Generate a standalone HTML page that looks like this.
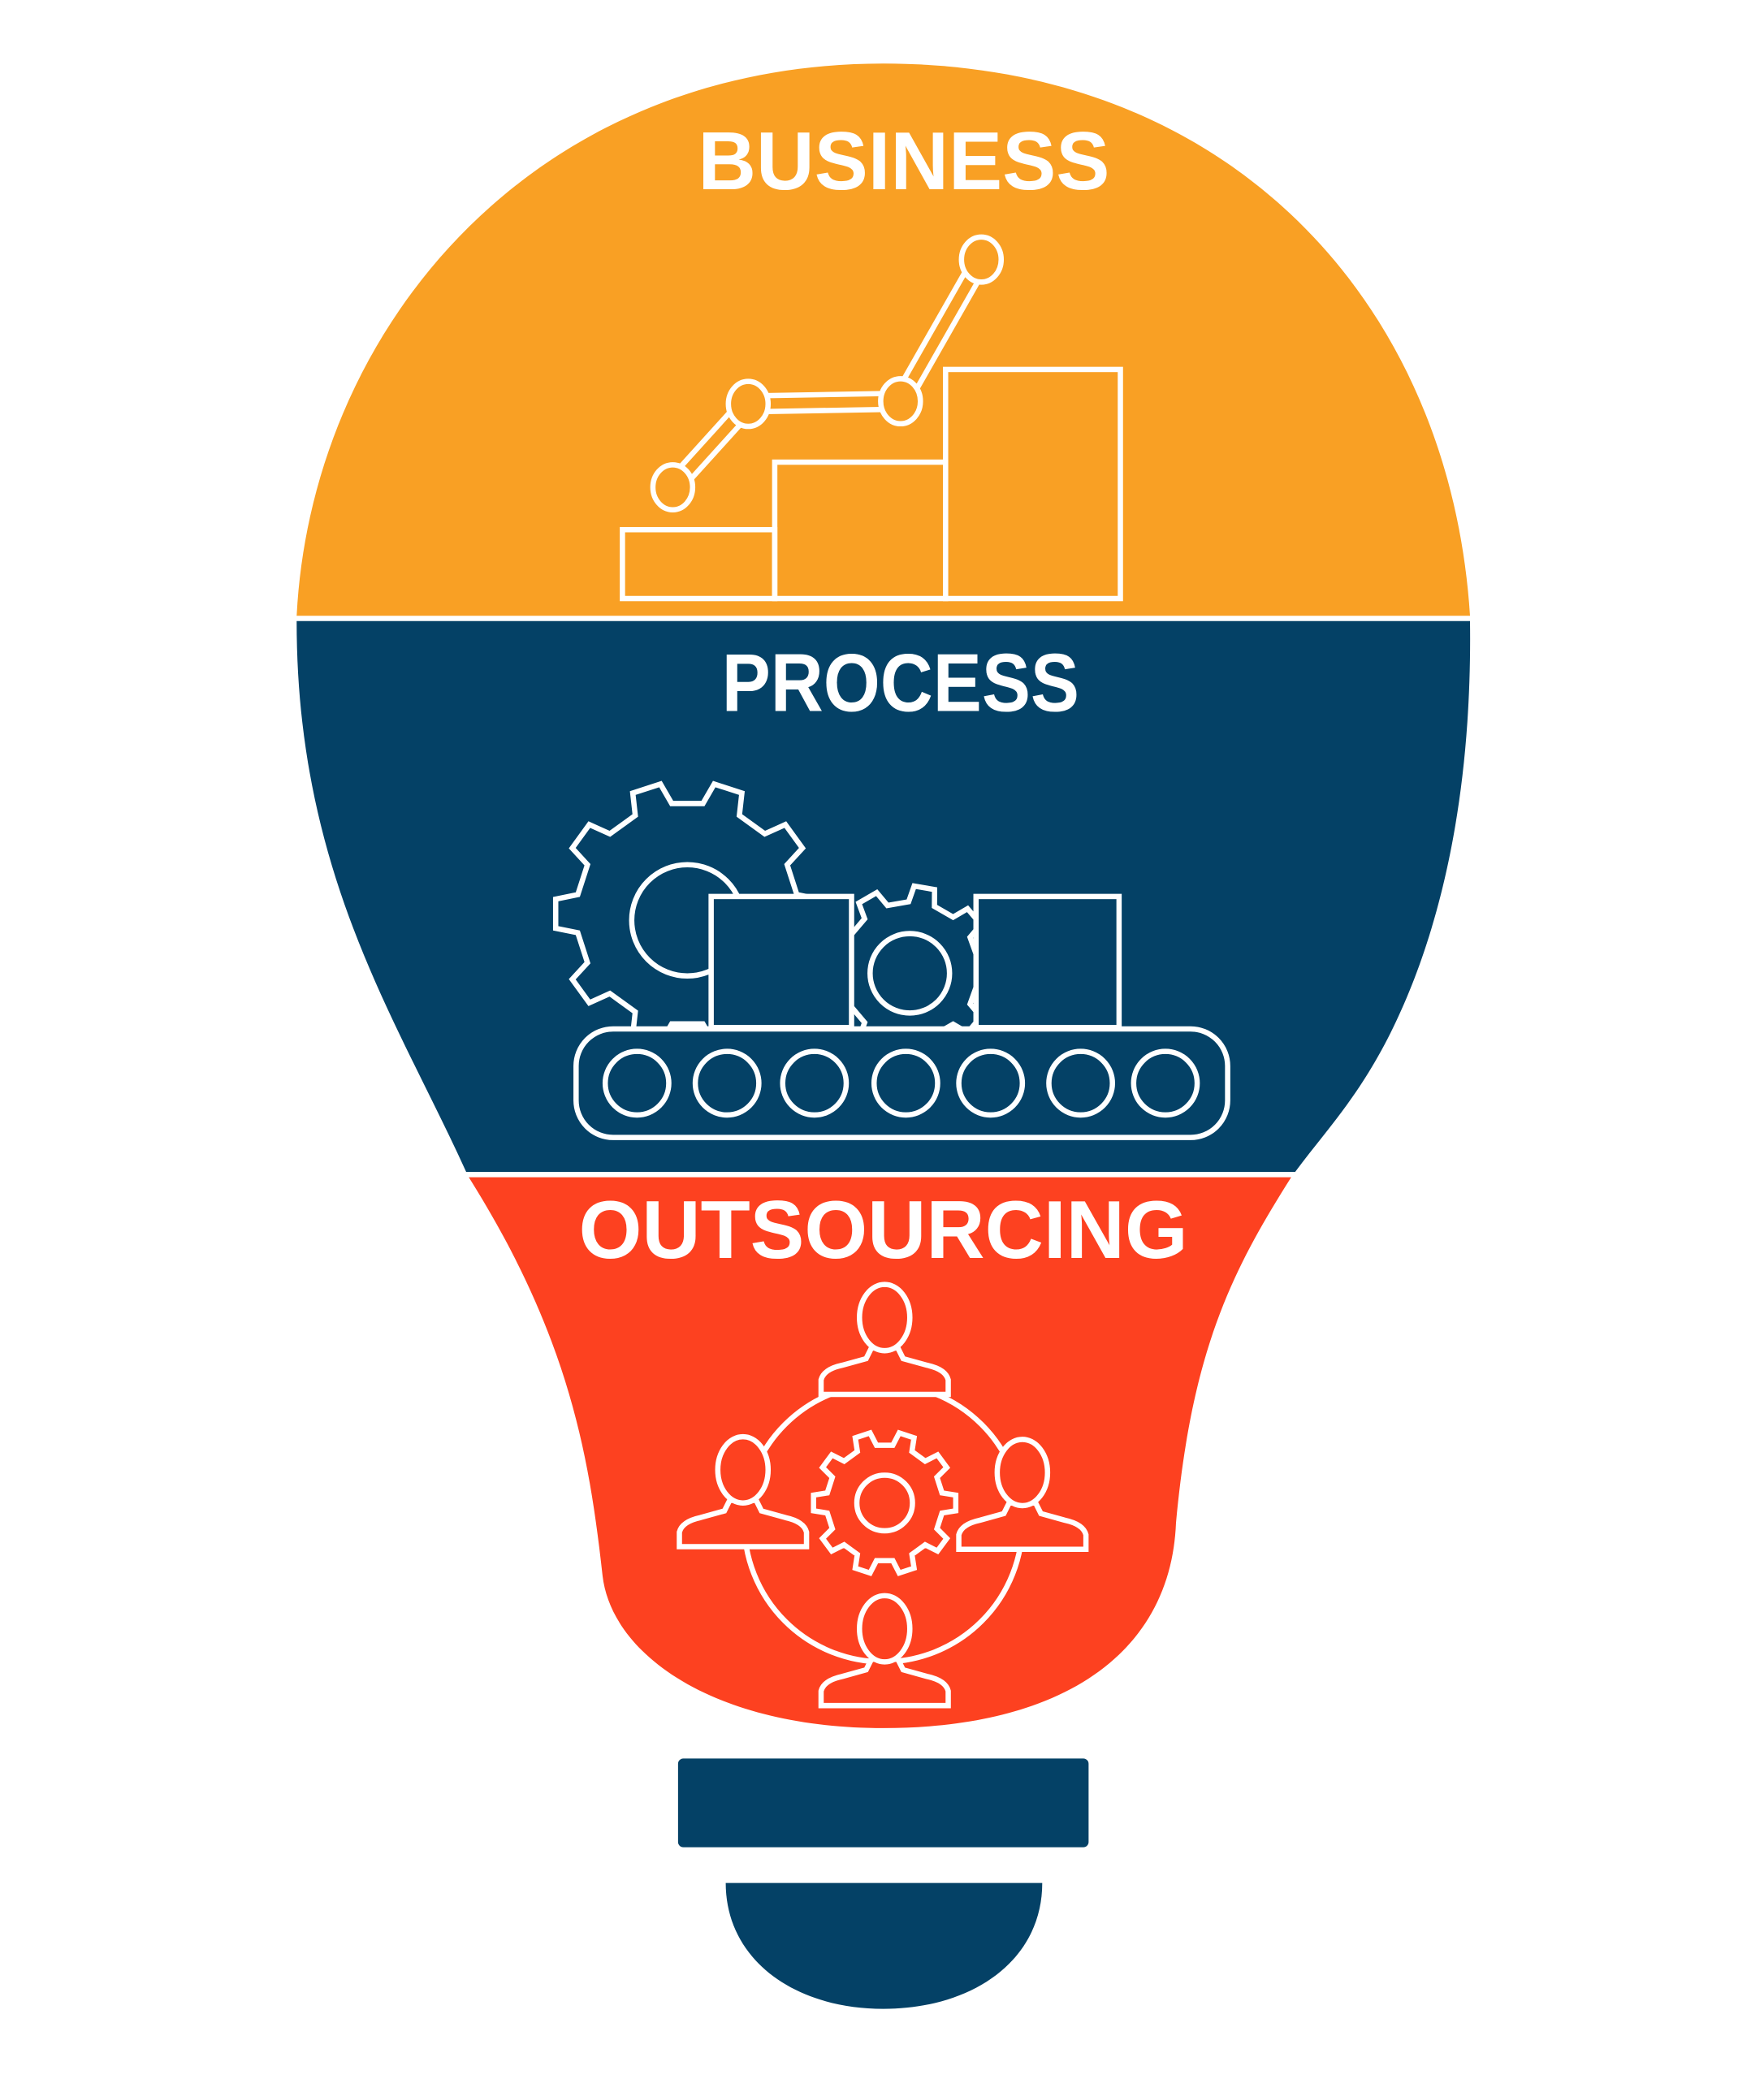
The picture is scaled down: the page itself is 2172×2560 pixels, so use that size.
<!DOCTYPE html>
<html><head><meta charset="utf-8"><style>
html,body{margin:0;padding:0;background:#fff}
svg{display:block}
text{font-family:"Liberation Sans",sans-serif;font-weight:bold;fill:#fff}
</style></head><body>
<svg id="s" width="2172" height="2560" viewBox="0 0 1332 1570" preserveAspectRatio="none" xmlns="http://www.w3.org/2000/svg">
<rect width="1332" height="1570" fill="#fff"/>
<path d="M224,465 C235,250 400,48 667,48 C930,48 1095,230 1110,465 Z" fill="#F9A024"/>
<path d="M224,469 L1110,469 C1112,620 1080,720 1050,780 C1025,830 1000,855 978,885 L352,885 C300,770 224,660 224,469 Z" fill="#044166"/>
<path d="M354,889 L975,889 C930,960 900,1020 888,1150 C884,1250 800,1305 667,1305 C540,1305 462,1250 455,1190 C445,1100 430,1010 354,889 Z" fill="#FD4120"/>
<rect x="512" y="1328" width="310" height="67" rx="4" fill="#044166"/>
<path d="M548,1422 L787,1422 C787,1480 735,1517 667,1517 C600,1517 548,1480 548,1422Z" fill="#044166"/>

<text x="527" y="143" font-size="62" textLength="311" lengthAdjust="spacingAndGlyphs">BUSINESS</text>
<text x="545" y="537" font-size="62" textLength="270" lengthAdjust="spacingAndGlyphs">PROCESS</text>
<text x="437" y="950" font-size="62" textLength="460" lengthAdjust="spacingAndGlyphs">OUTSOURCING</text>

<g fill="none" stroke="#fff" stroke-width="4">
<rect x="470" y="400" width="115" height="52"/>
<rect x="585" y="349" width="129" height="103"/>
<rect x="714" y="279" width="132" height="173"/>
</g>
<g stroke-linecap="round">
<polyline points="508,368 565,305 680,303 741,196" fill="none" stroke="#fff" stroke-width="16"/>
<polyline points="508,368 565,305 680,303 741,196" fill="none" stroke="#F9A024" stroke-width="8"/>
</g>
<g fill="#F9A024" stroke="#fff" stroke-width="4">
<ellipse cx="508" cy="368" rx="15" ry="17"/>
<ellipse cx="565" cy="305" rx="15" ry="17"/>
<ellipse cx="680" cy="303" rx="15" ry="17"/>
<ellipse cx="741" cy="196" rx="15" ry="17"/>
</g>

<g id="gears" fill="#044166" stroke="#fff" stroke-width="4"></g>
<circle cx="519" cy="695" r="42" fill="none" stroke="#fff" stroke-width="4"/>
<circle cx="687" cy="735" r="30" fill="none" stroke="#fff" stroke-width="4"/>
<g fill="#044166" stroke="#fff" stroke-width="4">
<rect x="537" y="677" width="106" height="99"/>
<rect x="737" y="677" width="108" height="99"/>
<rect x="435" y="777" width="492" height="82" rx="28"/>
<circle cx="481" cy="818" r="24"/><circle cx="549" cy="818" r="24"/><circle cx="615" cy="818" r="24"/><circle cx="684" cy="818" r="24"/><circle cx="748" cy="818" r="24"/><circle cx="816" cy="818" r="24"/><circle cx="880" cy="818" r="24"/>
</g>

<circle cx="667" cy="1150" r="105" fill="none" stroke="#fff" stroke-width="4"/>
<g id="gear3" fill="#FD4120" stroke="#fff" stroke-width="4"></g>
<circle cx="668" cy="1135" r="21" fill="none" stroke="#fff" stroke-width="4"/>
<g id="people" fill="#FD4120" stroke="#fff" stroke-width="4"></g>
</svg>
<script>
function gear(cx,cy,ro,ri,n){var p=[];for(var i=0;i<n;i++){var a=i*2*Math.PI/n,w=Math.PI/n;
var pts=[[ri,a-w*0.55],[ro,a-w*0.35],[ro,a+w*0.35],[ri,a+w*0.55]];
pts.forEach(function(q){p.push((cx+q[0]*Math.cos(q[1])).toFixed(1)+','+(cy+q[0]*Math.sin(q[1])).toFixed(1));});}
return '<polygon points="'+p.join(' ')+'"/>';}
document.getElementById('gears').innerHTML=gear(519,690,100,84,10)+gear(687,733,64,52,9);
document.getElementById('gear3').innerHTML=gear(668,1135,54,44,10);
function person(x,y){return '<path d="M'+(x-48)+','+(y+53)+' L'+(x-48)+','+(y+42)+' Q'+(x-46)+','+(y+34)+' '+(x-32)+','+(y+31)+' L'+(x-14)+','+(y+26)+' L'+(x-10)+','+(y+18)+' L'+(x+10)+','+(y+18)+' L'+(x+14)+','+(y+26)+' L'+(x+32)+','+(y+31)+' Q'+(x+46)+','+(y+34)+' '+(x+48)+','+(y+42)+' L'+(x+48)+','+(y+53)+' Z"/><ellipse cx="'+x+'" cy="'+(y-5)+'" rx="19" ry="25"/>';}
document.getElementById('people').innerHTML=person(668,1000)+person(561,1115)+person(772,1117)+person(668,1235);
</script>
</body></html>
